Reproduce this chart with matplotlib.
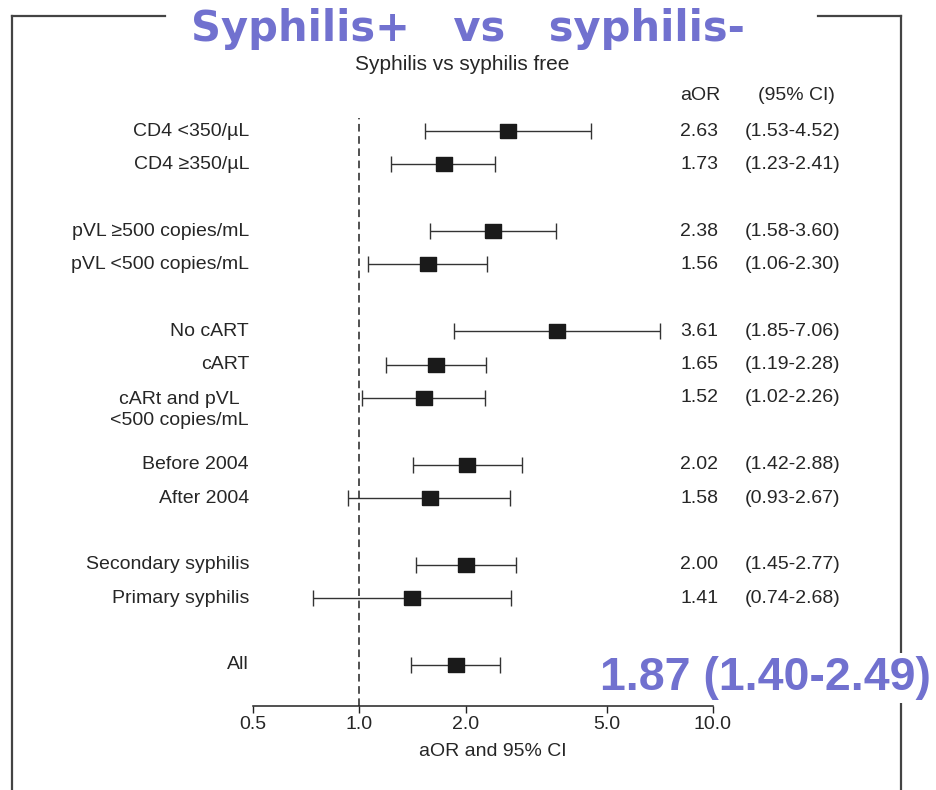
import numpy as np
import matplotlib
matplotlib.use("Agg")
import matplotlib.pyplot as plt
from matplotlib.lines import Line2D
from matplotlib.transforms import blended_transform_factory

# Données du forest plot
labels = ["CD4 <350/µL", "CD4 ≥350/µL",
          "pVL ≥500 copies/mL", "pVL <500 copies/mL",
          "No cART", "cART", "cARt and pVL\n<500 copies/mL",
          "Before 2004", "After 2004",
          "Secondary syphilis", "Primary syphilis",
          "All"]
rows = [0, 1, 3, 4, 6, 7, 8, 10, 11, 13, 14, 16]
aor = [2.63, 1.73, 2.38, 1.56, 3.61, 1.65, 1.52, 2.02, 1.58, 2.00, 1.41, 1.87]
ci_low = [1.53, 1.23, 1.58, 1.06, 1.85, 1.19, 1.02, 1.42, 0.93, 1.45, 0.74, 1.40]
ci_high = [4.52, 2.41, 3.60, 2.30, 7.06, 2.28, 2.26, 2.88, 2.67, 2.77, 2.68, 2.49]
xticks = [0.5, 1.0, 2.0, 5.0, 10.0]

W, H = 936, 790
TXT = "#262626"
BLUE = "#7171cf"
FS = 14
plt.rcParams['font.family'] = ['Liberation Sans', 'DejaVu Sans']


def fx(px):
    return px / W


def fy(py):
    return 1 - py / H


fig = plt.figure(figsize=(W / 100, H / 100), dpi=100)
ax = fig.add_axes([fx(253), fy(706), (713 - 253) / W, (706 - 118) / H])
ax.set_xscale("log")
ax.set_xlim(0.5, 10)
ax.set_ylim(17.23, -0.39)

# Intervalles de confiance + points
ax.errorbar(aor, rows,
            xerr=[np.array(aor) - np.array(ci_low), np.array(ci_high) - np.array(aor)],
            fmt="none", ecolor="#333333", elinewidth=1.0, capsize=5.8, capthick=1.0)
rect = [(-1.2, -1), (1.2, -1), (1.2, 1), (-1.2, 1), (-1.2, -1)]
ax.plot(aor, rows, linestyle="none", marker=rect, markersize=11.5,
        color="#1a1a1a", zorder=3)

# Ligne de référence à 1
ax.axvline(1.0, color="#222222", linewidth=1.1, linestyle=(0, (5, 3)))

for s in ["top", "left", "right"]:
    ax.spines[s].set_visible(False)
ax.spines["bottom"].set_linewidth(1.1)
ax.spines["bottom"].set_color("#222222")
ax.set_yticks([])
ax.set_xticks(xticks)
ax.set_xticklabels([f"{t:.1f}" for t in xticks])
ax.xaxis.set_minor_locator(matplotlib.ticker.NullLocator())
ax.tick_params(axis="x", direction="out", length=5, width=1.0, color="#222222",
               labelsize=FS, labelcolor=TXT, pad=2)
fig.text(fx(493), fy(752), "aOR and 95% CI", ha="center", va="center",
         fontsize=FS, color=TXT)

# Libellés et valeurs par ligne
tr = blended_transform_factory(fig.transFigure, ax.transData)
for lab, r, a, lo, hi in zip(labels, rows, aor, ci_low, ci_high):
    yl = r + 0.36 if "\n" in lab else r
    ax.text(fx(249), yl, lab, transform=tr, ha="right", va="center",
            multialignment="center", fontsize=FS, color=TXT, linespacing=1.25)
    if lab != "All":
        ax.text(fx(680), r, f"{a:.2f}", transform=tr, ha="left", va="center",
                fontsize=FS, color=TXT)
        ax.text(fx(745), r, f"({lo:.2f}-{hi:.2f})", transform=tr, ha="left",
                va="center", fontsize=FS, color=TXT)

fig.text(fx(680), fy(95), "aOR", ha="left", va="center", fontsize=FS, color=TXT)
fig.text(fx(758), fy(95), "(95% CI)", ha="left", va="center", fontsize=FS, color=TXT)
fig.text(fx(462), fy(65), "Syphilis vs syphilis free", ha="center", va="center",
         fontsize=15, color=TXT)

# Cadre
lc = "#444444"
for xs, ys in [([12, 12], [16, H]), ([901, 901], [16, H]),
               ([12, 165], [16, 16]), ([818, 901], [16, 16])]:
    fig.add_artist(Line2D([fx(x) for x in xs], [fy(y) for y in ys],
                          color=lc, linewidth=1.6))

# Titres en surimpression
fig.text(fx(468), fy(41), "Syphilis+   vs   syphilis-", ha="center", va="baseline",
         fontsize=30, fontweight="bold", color=BLUE, family="DejaVu Sans")
fig.text(fx(600), fy(690), "1.87 (1.40-2.49)", ha="left", va="baseline",
         fontsize=33.5, fontweight="bold", color=BLUE,
         bbox=dict(facecolor="white", edgecolor="none", pad=2))

fig.savefig("out.png", dpi=100)
